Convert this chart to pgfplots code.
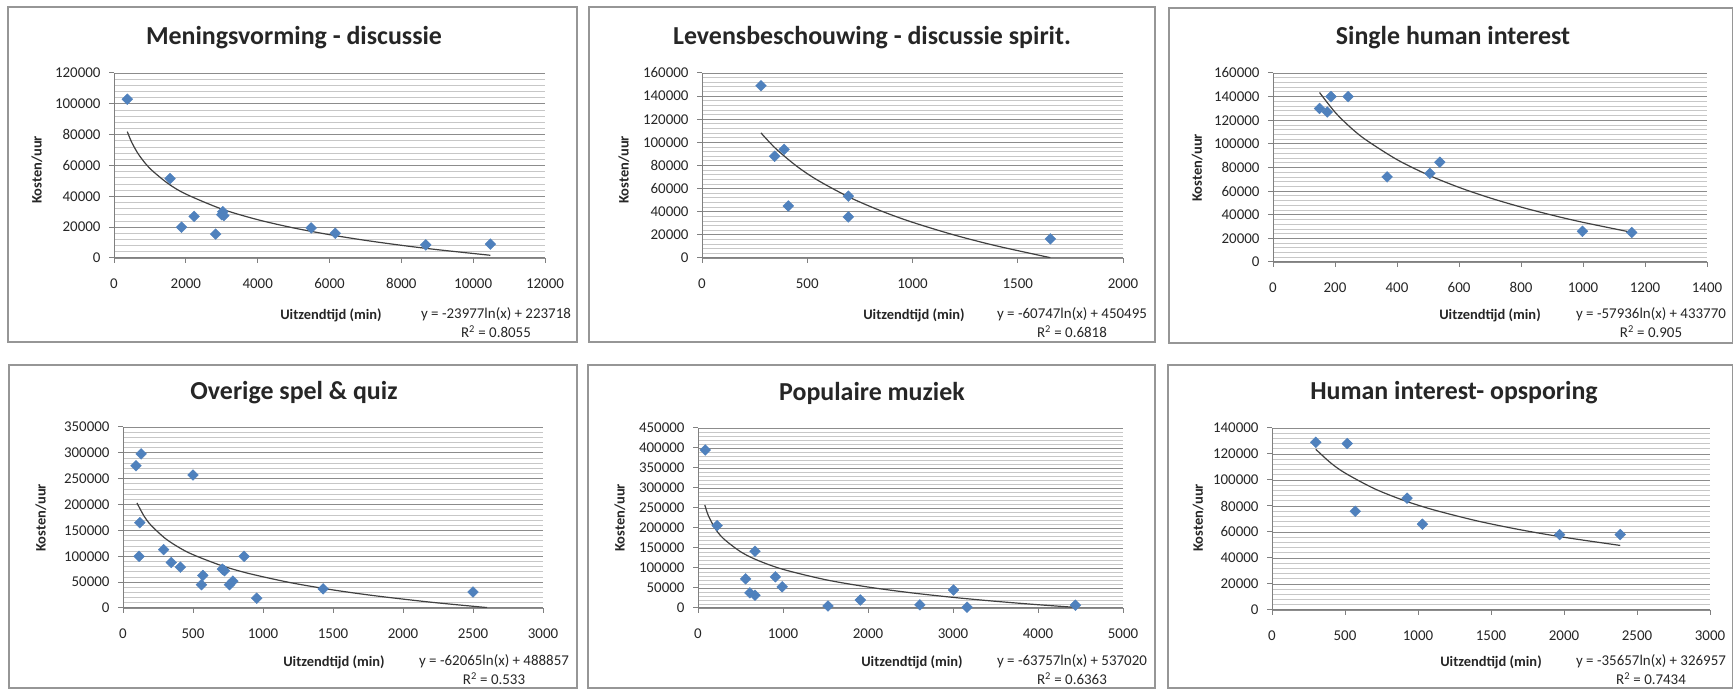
\documentclass[border=0pt]{standalone}
\usepackage{fontspec}
\setmainfont{Carlito}
\usepackage{pgfplots}
\pgfplotsset{compat=1.18}
\definecolor{mk}{RGB}{79,129,189}
\definecolor{frm}{RGB}{150,150,150}
\pgfplotsset{
  panel/.style={
    scale only axis,
    anchor=south west,
    xmin=0, ymin=0,
    axis x line*=bottom, axis y line*=left,
    axis line style={black!50, line width=1bp},
    tick align=outside,
    major tick length=5bp,
    minor tick length=0bp,
    every tick/.style={black!50, line width=1bp},
    ymajorgrids, yminorgrids,
    major grid style={black!45, line width=0.9bp},
    minor grid style={black!22, line width=0.8bp},
    minor y tick num=4,
    scaled ticks=false,
    tick label style={font=\fontsize{15}{15}\selectfont, text=black!85},
    /pgf/number format/assume math mode=true,
    /pgf/number format/fixed,
    /pgf/number format/1000 sep={},
    xticklabel style={yshift=-12bp},
    yticklabel style={xshift=-5bp},
  },
  pts/.style={only marks, mark=square*, mark size=3.8bp, mark options={rotate=45, fill=mk, draw=mk}},
  trend/.style={no marks, black!75, line width=1.2bp, smooth},
}
\newcommand{\ttl}[3]{\node[font=\bfseries\fontsize{26}{26}\selectfont, text=black!85] at (#1,#2) {#3};}
\newcommand{\ylab}[2]{\node[rotate=90, font=\bfseries\fontsize{14.5}{14.5}\selectfont, text=black!85] at (#1,#2) {Kosten/uur};}
\newcommand{\xlab}[2]{\node[font=\bfseries\fontsize{14.5}{14.5}\selectfont, text=black!85] at (#1,#2) {Uitzendtijd (min)};}
\newcommand{\eqn}[4]{\node[align=center, font=\fontsize{15}{19}\selectfont, text=black!85] at (#1,#2) {#3\\R\textsuperscript{2} = #4};}
\begin{document}
\begin{tikzpicture}[x=1bp,y=1bp]
\useasboundingbox (0,0) rectangle (1733,690);
\fill[white] (0,0) rectangle (1733,690);
% frames
\draw[frm, line width=1.3bp] (8,348) rectangle (577,683);
\draw[frm, line width=1.3bp] (589,348) rectangle (1155,683);
\draw[frm, line width=1.3bp] (1169,347) rectangle (1732.4,682);
\draw[frm, line width=1.3bp] (9,2) rectangle (577,325);
\draw[frm, line width=1.3bp] (588,2) rectangle (1155,325);
\draw[frm, line width=1.3bp] (1168,2) rectangle (1732.4,325);

% Panel 1
\begin{axis}[panel, at={(114bp,432bp)}, width=431bp, height=185bp,
  xmax=12000, xtick={0,2000,4000,6000,8000,10000,12000},
  ymax=120000, ytick={0,20000,40000,60000,80000,100000,120000}]
\addplot[pts] coordinates {(370,103000) (1560,51500) (1880,20000) (2230,27000) (2830,15500)
  (3000,28000) (3030,30000) (3060,27500) (5490,19500) (6160,16000) (8680,8500) (10480,9000)};
\addplot[trend] coordinates {(370,81930) (500,74710) (700,66642) (1000,58090) (1500,48369)
  (2000,41471) (3000,31748) (4000,24852) (5000,19501) (6000,15130) (7000,11433)
  (8000,8232) (9000,5407) (10480,1756)};
\end{axis}
\ttl{294}{652}{Meningsvorming - discussie}
\ylab{37}{520}
\xlab{331}{375}
\eqn{496}{367}{y = -23977ln(x) + 223718}{0.8055}

% Panel 2
\begin{axis}[panel, at={(702bp,432bp)}, width=421bp, height=185bp,
  xmax=2000, xtick={0,500,1000,1500,2000},
  ymax=160000, ytick={0,20000,40000,60000,80000,100000,120000,140000,160000}]
\addplot[pts] coordinates {(280,149000) (345,88000) (390,94000) (410,45000) (695,53500)
  (695,35500) (1655,16500)};
\addplot[trend] coordinates {(280,108198) (350,94646) (450,79380) (550,67188) (700,52535)
  (850,40744) (1000,30867) (1200,19793) (1400,10432) (1655,263)};
\end{axis}
\ttl{872}{652}{Levensbeschouwing - discussie spirit.}
\ylab{624}{520}
\xlab{914}{375}
\eqn{1072}{367}{y = -60747ln(x) + 450495}{0.6818}

% Panel 3
\begin{axis}[panel, at={(1273bp,428bp)}, width=434bp, height=189bp,
  xmax=1400, xtick={0,200,400,600,800,1000,1200,1400},
  ymax=160000, ytick={0,20000,40000,60000,80000,100000,120000,140000,160000}]
\addplot[pts] coordinates {(150,130000) (175,127000) (187,140000) (242,140000) (368,72000)
  (506,75000) (538,84500) (998,26000) (1157,25000)};
\addplot[trend] coordinates {(150,143476) (200,126808) (250,113876) (300,103314) (400,86646)
  (500,73720) (600,63158) (700,54224) (800,46490) (900,39665) (1000,33559) (1157,25113)};
\end{axis}
\ttl{1453}{652}{Single human interest}
\ylab{1197}{522}
\xlab{1490}{375}
\eqn{1651}{367}{y = -57936ln(x) + 433770}{0.905}

% Panel 4
\begin{axis}[panel, at={(123bp,82bp)}, width=420bp, height=181bp,
  xmax=3000, xtick={0,500,1000,1500,2000,2500,3000},
  ymax=350000, ytick={0,50000,100000,150000,200000,250000,300000,350000}]
\addplot[pts] coordinates {(93,275000) (130,298000) (120,165000) (115,100000) (290,113000)
  (345,88000) (410,79000) (500,257000) (570,63000) (560,45000) (710,75000) (725,72000)
  (760,45000) (785,52000) (865,100000) (955,19000) (1430,37000) (2500,31000)};
\addplot[trend] coordinates {(100,203035) (150,177874) (200,160018) (300,134851) (400,116995)
  (500,103148) (700,82263) (900,66666) (1200,48810) (1500,34963) (1800,23648)
  (2200,11192) (2600,821)};
\end{axis}
\ttl{294}{297}{Overige spel \& quiz}
\ylab{41}{172}
\xlab{334}{28}
\eqn{494}{20}{y = -62065ln(x) + 488857}{0.533}

% Panel 5
\begin{axis}[panel, at={(698bp,82bp)}, width=425bp, height=180bp,
  xmax=5000, xtick={0,1000,2000,3000,4000,5000},
  ymax=450000, ytick={0,50000,100000,150000,200000,250000,300000,350000,400000,450000}]
\addplot[pts] coordinates {(85,395000) (225,206000) (670,142000) (560,73000) (610,38000)
  (670,32000) (910,78000) (990,53000) (1530,5000) (1910,20000) (2610,8000) (3005,45000)
  (3165,2000) (4440,7000)};
\addplot[trend] coordinates {(80,257637) (120,231783) (200,199217) (300,173363) (500,140796)
  (700,119342) (1000,96600) (1500,70753) (2000,52410) (2500,38185) (3000,26556)
  (3500,16731) (4000,8219) (4440,1563)};
\end{axis}
\ttl{872}{297}{Populaire muziek}
\ylab{620}{172}
\xlab{912}{28}
\eqn{1072}{20}{y = -63757ln(x) + 537020}{0.6363}

% Panel 6
\begin{axis}[panel, at={(1272bp,80bp)}, width=438bp, height=182bp,
  xmax=3000, xtick={0,500,1000,1500,2000,2500,3000},
  ymax=140000, ytick={0,20000,40000,60000,80000,100000,120000,140000}]
\addplot[pts] coordinates {(300,129000) (515,128000) (570,76000) (925,86000) (1030,66000)
  (1970,58000) (2385,58000)};
\addplot[trend] coordinates {(300,123577) (400,113318) (500,105363) (700,93364) (900,84403)
  (1100,77247) (1400,68650) (1700,61725) (2000,55931) (2385,49652)};
\end{axis}
\ttl{1454}{297}{Human interest- opsporing}
\ylab{1198}{172}
\xlab{1491}{28}
\eqn{1651}{20}{y = -35657ln(x) + 326957}{0.7434}
\end{tikzpicture}
\end{document}
